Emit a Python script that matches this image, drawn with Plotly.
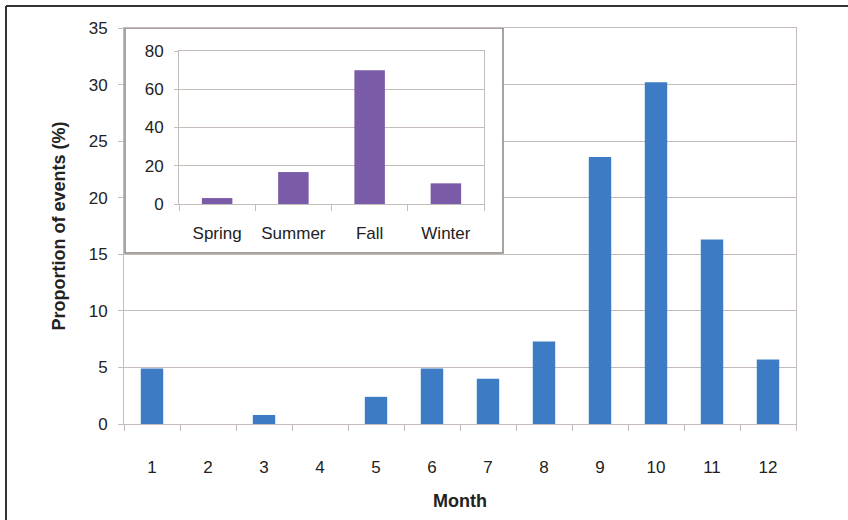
import plotly.graph_objects as go

months = [str(m) for m in range(1, 13)]
month_pct = [4.9, 0, 0.8, 0, 2.4, 4.9, 4.0, 7.3, 23.6, 30.2, 16.3, 5.7]

seasons = ["Spring", "Summer", "Fall", "Winter"]
season_pct = [3.1, 16.7, 70.0, 10.8]

W, H = 848, 520
font = "Liberation Sans, Arial, sans-serif"
grid = "#c4bcb8"
blue = "#3d7cc4"
purple = "#7a5ba7"


def px(x):
    return x / W


def py(y):
    return 1 - y / H


fig = go.Figure()
fig.add_trace(go.Bar(x=months, y=month_pct, marker_color=blue,
                     marker_line_width=0, xaxis="x", yaxis="y"))
fig.add_trace(go.Bar(x=seasons, y=season_pct, marker_color=purple,
                     marker_line_width=0, xaxis="x2", yaxis="y2"))

tickfont = dict(family=font, size=17, color="#222")
titlefont = dict(family=font, size=18, color="#222", weight="bold")

fig.update_layout(
    width=W, height=H,
    margin=dict(l=0, r=0, t=0, b=0),
    paper_bgcolor="white", plot_bgcolor="white",
    showlegend=False, bargap=0.6,
    xaxis=dict(domain=[px(124), px(796)], type="category",
               range=[-0.5, 11.5], tickson="boundaries",
               ticks="outside", ticklen=6, tickcolor=grid,
               showline=True, linecolor=grid, mirror=True,
               showgrid=False, tickfont=tickfont, ticklabelstandoff=28,
               title=dict(text="Month", font=titlefont, standoff=17),
               automargin=False, anchor="y"),
    yaxis=dict(domain=[py(424), py(28)], range=[0, 35], dtick=5,
               ticks="outside", ticklen=5, tickcolor=grid,
               showline=True, linecolor=grid, mirror=True,
               gridcolor=grid, zeroline=False, tickfont=tickfont,
               ticklabelstandoff=7,
               title=dict(text="Proportion of events (%)", font=titlefont,
                          standoff=18),
               automargin=False, anchor="x"),
    xaxis2=dict(domain=[px(179), px(484)], type="category",
                range=[-0.5, 3.5], tickson="boundaries",
                ticks="outside", ticklen=6, tickcolor=grid,
                showline=True, linecolor=grid, mirror=True,
                showgrid=False, tickfont=tickfont, ticklabelstandoff=14,
                automargin=False, anchor="y2"),
    yaxis2=dict(domain=[py(204), py(51)], range=[0, 80], dtick=20,
                ticks="outside", ticklen=4, tickcolor=grid,
                showline=True, linecolor=grid, mirror=True,
                gridcolor=grid, zeroline=False, tickfont=tickfont,
                ticklabelstandoff=7, automargin=False, anchor="x2"),
)

# inset panel box, covering the main gridlines
fig.add_shape(type="rect", xref="x", yref="y",
              x0=-0.5 + 1 / 56, x1=-0.5 + 379 / 56, y0=171 / (396 / 35), y1=35,
              fillcolor="white", line=dict(color="#8a8684", width=1.5),
              layer="between")

# outer frame of the figure (only top and left edges are in view)
frame = dict(color="#333333", width=2)
fig.add_shape(type="line", xref="paper", yref="paper",
              x0=px(6), x1=1, y0=py(6), y1=py(6), line=frame, layer="above")
fig.add_shape(type="line", xref="paper", yref="paper",
              x0=px(6), x1=px(6), y0=0, y1=py(6), line=frame, layer="above")

fig.write_html("out.html", config={"displayModeBar": False},
               post_script="document.body.style.margin='0';")
